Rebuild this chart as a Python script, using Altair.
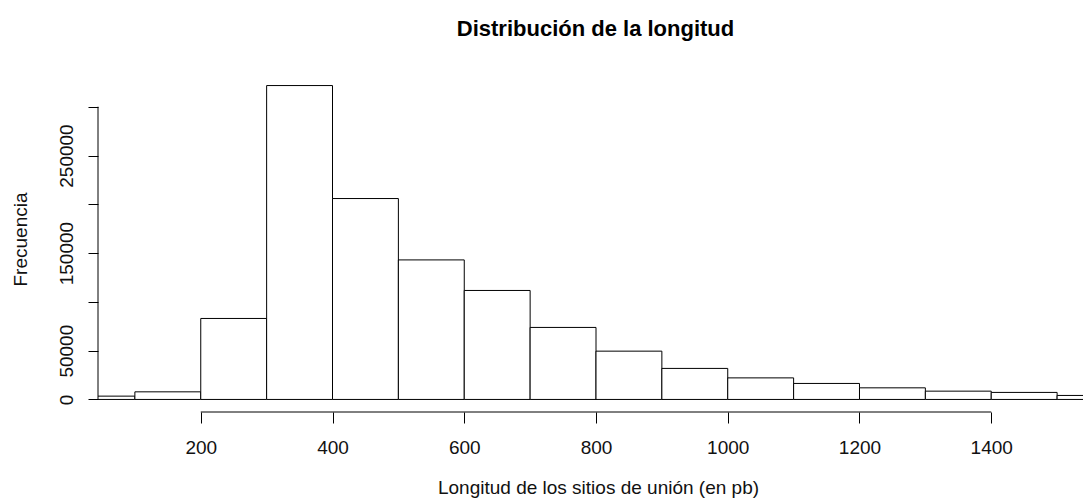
import altair as alt
import pandas as pd

# Histogram of binding-site lengths (bp), 100-bp bins
breaks = [0, 100, 200, 300, 400, 500, 600, 700, 800, 900, 1000,
          1100, 1200, 1300, 1400, 1500, 1600]
counts = [3400, 7800, 83000, 321700, 205900, 143000, 111700, 73800,
          49500, 31800, 22100, 16400, 11900, 8500, 7200, 4100]

x_ticks = [200, 400, 600, 800, 1000, 1200, 1400]
y_ticks = [0, 50000, 100000, 150000, 200000, 250000, 300000]

title_text = "Distribución de la longitud"
x_title = "Longitud de los sitios de unión (en pb)"
y_title = "Frecuencia"

FONT = "Liberation Sans"

bins = pd.DataFrame({"start": breaks[:-1], "end": breaks[1:], "count": counts})

# R-style axis limits: xlim = (100, 1500) and ylim = (0, max) widened by 4 %
xlim = (100, 1500)
x_span = xlim[1] - xlim[0]
x_lo = xlim[0] - 0.04 * x_span
full_w = 996          # pixel width of the full plotting region
plot_w = 985          # part of it that is visible
x_hi = x_lo + (x_span * 1.08) * plot_w / full_w

ymax = max(counts)
y_lo = -0.04 * ymax
y_hi = ymax * 1.04
plot_h = 339

x_scale = alt.Scale(domain=[x_lo, x_hi], nice=False, zero=False)
y_scale = alt.Scale(domain=[y_lo, y_hi], nice=False, zero=False)

x_axis = alt.Axis(
    values=x_ticks, domain=False, grid=False, format="d",
    tickSize=11, tickColor="black", tickWidth=1,
    labelFont=FONT, labelFontSize=19, labelColor="#111",
    labelPadding=15, labelFlush=False, labelOverlap=False,
    title=x_title, titleFont=FONT, titleFontSize=19, titleFontWeight="normal",
    titleColor="#111", titleX=500, titleY=81, titleAlign="center",
    titleBaseline="alphabetic",
)

y_axis = alt.Axis(
    values=y_ticks, domain=False, grid=False, format="d",
    tickSize=10, tickColor="black", tickWidth=1,
    labelFont=FONT, labelFontSize=19, labelColor="#111",
    labelAngle=270, labelAlign="center", labelBaseline="alphabetic",
    labelPadding=16, labelFlush=False, labelOverlap=False,
    labelExpr="datum.value % 100000 == 0 && datum.value > 0 ? '' : datum.label",
    title=y_title, titleFont=FONT, titleFontSize=19, titleFontWeight="normal",
    titleColor="#111", titleAngle=270, titleX=-72, titleY=166,
    titleAlign="center", titleBaseline="alphabetic",
)

bars = alt.Chart(bins).mark_rect(
    fill="white", stroke="black", strokeWidth=1, clip=True
).encode(
    x=alt.X("start:Q", scale=x_scale, axis=x_axis),
    x2="end:Q",
    y=alt.Y("count:Q", scale=y_scale, axis=y_axis),
    y2=alt.datum(0),
)

# Axis lines spanning only the tick range, as in base R graphics
x_line = alt.Chart(
    pd.DataFrame({"start": [x_ticks[0]], "end": [x_ticks[-1]], "count": [y_lo]})
).mark_rule(color="black", strokeWidth=1).encode(
    x=alt.X("start:Q", scale=x_scale),
    x2="end:Q",
    y=alt.Y("count:Q", scale=y_scale),
)

y_line = alt.Chart(
    pd.DataFrame({"start": [x_lo], "count": [y_ticks[0]], "top": [y_ticks[-1]]})
).mark_rule(color="black", strokeWidth=1).encode(
    x=alt.X("start:Q", scale=x_scale),
    y=alt.Y("count:Q", scale=y_scale),
    y2="top:Q",
)

chart = alt.layer(bars, x_line, y_line).properties(
    width=plot_w,
    height=plot_h,
    title=alt.TitleParams(
        title_text, font=FONT, fontSize=22, fontWeight="bold", color="black",
        anchor="middle", frame="group", dx=5, offset=15, baseline="alphabetic",
    ),
    padding={"left": 98, "top": 73, "right": 0, "bottom": 88},
    autosize=alt.AutoSizeParams(type="none"),
).configure(background="white").configure_view(stroke=None)

chart.save("out.html", embed_options={"renderer": "svg", "actions": False})
